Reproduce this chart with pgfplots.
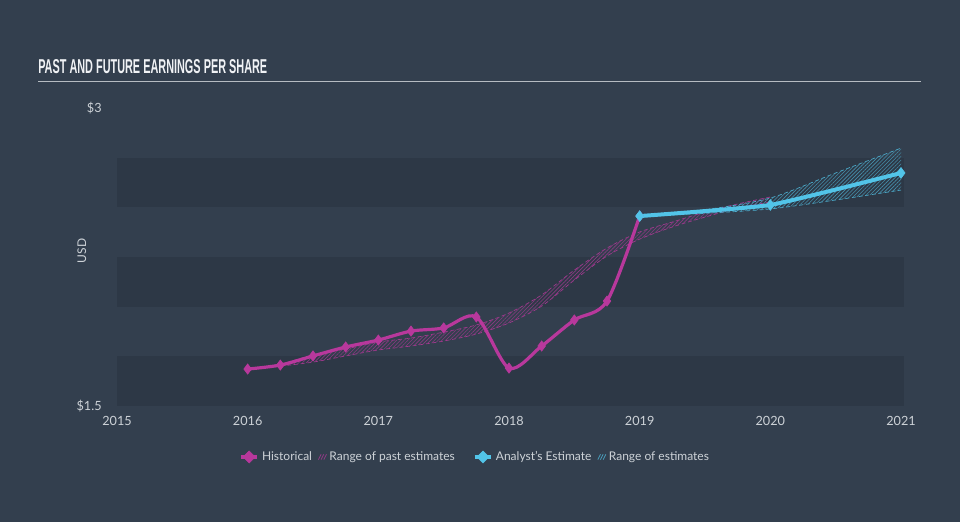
\documentclass[border=0pt]{standalone}
\usepackage{pgfplots}
\pgfplotsset{compat=1.18}
\usepackage{graphicx}
\usepackage{fontspec}
\setmainfont{Lato}
\newfontfamily\titlefont{Liberation Sans}
\usepgfplotslibrary{fillbetween}
\usetikzlibrary{patterns.meta}
\definecolor{bg}{RGB}{51,63,78}
\definecolor{band}{RGB}{45,56,70}
\definecolor{txt}{RGB}{205,210,215}
\definecolor{axln}{RGB}{170,188,204}
\definecolor{mag}{RGB}{184,56,156}
\definecolor{cyn}{RGB}{82,196,232}
\definecolor{ttl}{RGB}{240,242,245}
\begin{document}
\begin{tikzpicture}
\fill[bg] (0,0) rectangle (720pt,391.5pt);
\node[anchor=south west, inner sep=0pt, text=ttl] at (28.5pt,336pt) {\resizebox{171.75pt}{10.5pt}{\titlefont\bfseries PAST AND FUTURE EARNINGS PER SHARE}};
\draw[color=txt!85!bg, line width=1.1pt] (28.5pt,330.2pt) -- (690.5pt,330.2pt);
\begin{axis}[
  at={(87.75pt,87pt)}, anchor=south west,
  scale only axis, width=588pt, height=223.5pt,
  xmin=2015, xmax=2021, ymin=1.5, ymax=3,
  clip=false,
  axis x line*=bottom, axis y line*=left,
  y axis line style={draw=none},
  x axis line style={draw=axln, line width=0.8pt},
  xtick={2015,2016,2017,2018,2019,2020,2021},
  xtick align=outside, major tick length=5pt,
  major x tick style={draw=axln, line width=0.8pt},
  major y tick style={draw=none},
  ytick={1.5,3}, yticklabels={\$1.5,\$3},
  /pgf/number format/assume math mode=true,
  xticklabel style={/pgf/number format/1000 sep=, text=txt, font=\fontsize{9.5pt}{11pt}\selectfont, yshift=1pt},
  yticklabel style={text=txt, font=\fontsize{9.5pt}{11pt}\selectfont, xshift=-8pt},
  ylabel={USD}, ylabel style={at={(axis description cs:-0.045,0.52)}, anchor=center, text=txt, font=\fontsize{9pt}{11pt}\selectfont},
  legend style={at={(axis description cs:0.457,-0.171)}, anchor=center, draw=none, fill=none, text=txt, font=\fontsize{9pt}{11pt}\selectfont, legend columns=4, /tikz/every even column/.append style={column sep=2.5pt}, inner sep=0pt},
  legend cell align=left,
]
\fill[band] (axis cs:2015,1.5) rectangle (axis cs:2021.02,1.75);
\fill[band] (axis cs:2015,2.0) rectangle (axis cs:2021.02,2.25);
\fill[band] (axis cs:2015,2.5) rectangle (axis cs:2021.02,2.75);
% past estimates band
\addplot[forget plot, name path=pU, draw=mag!85!bg, densely dashed, line width=0.5pt, smooth] coordinates {
(2016.0,1.686) (2016.25,1.711) (2016.5,1.757) (2016.75,1.787) (2017.0,1.822) (2017.25,1.842) (2017.5,1.872) (2017.75,1.908) (2018.0,1.968) (2018.25,2.059) (2018.5,2.184) (2018.75,2.295) (2019.0,2.376) (2019.25,2.426) (2019.5,2.476) (2019.75,2.517) (2020.0,2.552)};
\addplot[forget plot, name path=pL, draw=mag!85!bg, densely dashed, line width=0.5pt, smooth] coordinates {
(2016.0,1.686) (2016.25,1.701) (2016.5,1.721) (2016.75,1.752) (2017.0,1.782) (2017.25,1.802) (2017.5,1.827) (2017.75,1.862) (2018.0,1.918) (2018.25,2.003) (2018.5,2.134) (2018.75,2.255) (2019.0,2.340) (2019.25,2.401) (2019.5,2.451) (2019.75,2.496) (2020.0,2.527)};
\addplot[forget plot, draw=none, pattern={Lines[angle=45,distance=2pt,line width=0.45pt]}, pattern color=mag!65!bg] fill between[of=pU and pL, on layer=main];
% future estimates band
\addplot[forget plot, name path=fU, draw=cyn!85!bg, densely dashed, line width=0.5pt, smooth] coordinates {
(2019.0,2.456) (2019.5,2.488) (2020.0,2.547) (2020.5,2.673) (2021.0,2.798)};
\addplot[forget plot, name path=fL, draw=cyn!85!bg, densely dashed, line width=0.5pt, smooth] coordinates {
(2019.0,2.456) (2019.5,2.470) (2020.0,2.492) (2020.5,2.537) (2021.0,2.587)};
\addplot[forget plot, draw=none, pattern={Lines[angle=45,distance=2pt,line width=0.45pt]}, pattern color=cyn!60!bg] fill between[of=fU and fL, on layer=main];
% historical
\addplot[forget plot, mag, line width=2.4pt, smooth, tension=0.5, mark=diamond*, mark size=3.8pt, mark options={solid, line width=0.5pt}] coordinates {
(2016.0,1.686) (2016.25,1.706) (2016.5,1.752) (2016.75,1.797) (2017.0,1.832) (2017.25,1.877) (2017.5,1.893) (2017.75,1.948) (2018.0,1.691) (2018.25,1.802) (2018.5,1.933) (2018.75,2.028) (2019.0,2.456)};
% analyst
\addplot[forget plot, cyn, line width=3pt, smooth, tension=0.25, mark=diamond*, mark size=4pt, mark options={solid, line width=0.5pt}] coordinates {
(2019.0,2.456) (2020.0,2.512) (2021.0,2.673)};
% legend
\addlegendimage{legend image code/.code={\draw[mag, line width=2.8pt] (0pt,0pt) -- (12.5pt,0pt); \fill[mag] (6.25pt,-4.5pt) -- (10.75pt,0pt) -- (6.25pt,4.5pt) -- (1.75pt,0pt) -- cycle;}}
\addlegendentry{Historical}
\addlegendimage{legend image code/.code={\draw[mag!70!bg, line width=0.6pt] (0pt,-2pt) -- (2pt,2pt) (2pt,-2pt) -- (4pt,2pt) (4pt,-2pt) -- (6pt,2pt);}}
\addlegendentry{Range of past estimates\kern9pt}
\addlegendimage{legend image code/.code={\draw[cyn, line width=2.8pt] (0pt,0pt) -- (12.5pt,0pt); \fill[cyn] (6.25pt,-4.5pt) -- (10.75pt,0pt) -- (6.25pt,4.5pt) -- (1.75pt,0pt) -- cycle;}}
\addlegendentry{Analyst's Estimate}
\addlegendimage{legend image code/.code={\draw[cyn!70!bg, line width=0.6pt] (0pt,-2pt) -- (2pt,2pt) (2pt,-2pt) -- (4pt,2pt) (4pt,-2pt) -- (6pt,2pt);}}
\addlegendentry{Range of estimates}
\end{axis}
\end{tikzpicture}
\end{document}
